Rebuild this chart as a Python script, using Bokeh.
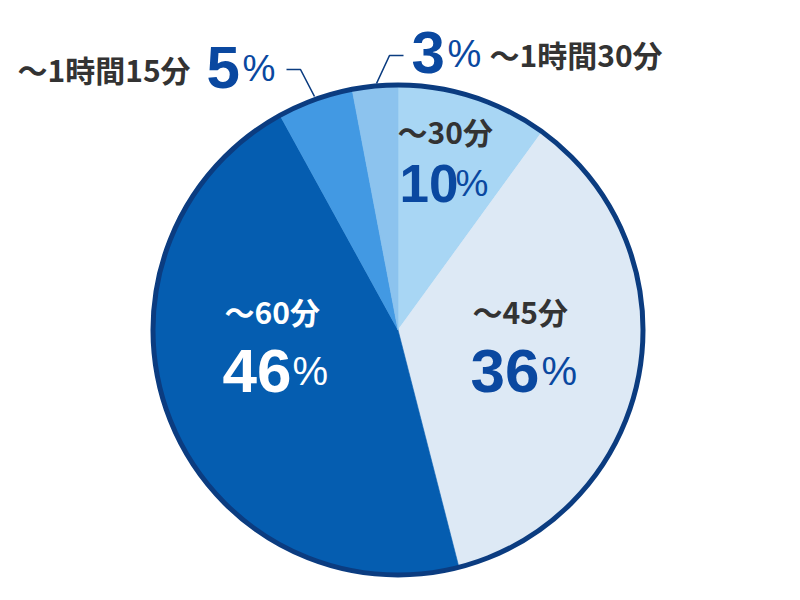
import numpy as np
from bokeh.plotting import figure
from bokeh.models import Range1d
from bokeh.core.properties import value
from bokeh.embed import file_html
from bokeh.resources import INLINE

# ---- data ----
categories = ["〜30分", "〜45分", "〜60分", "〜1時間15分", "〜1時間30分"]
percents = [10, 36, 46, 5, 3]
pct_labels = ["10", "36", "46", "5", "3"]
colors = ["#a8d6f4", "#dde9f5", "#055db0", "#4299e3", "#8cc3ee"]

# ---- layout (screen pixel coordinates in the window) ----
CX, CY, R = 397.5, 329.5, 245.0
name_pos = [(397, 130), (472, 310), (224, 310), (17, 68), (489, 53)]
name_col = ["#333333", "#333333", "#ffffff", "#333333", "#333333"]
num_pos = [(399, 183), (470, 370), (222, 370), (206, 67), (411, 52)]
num_size = ["53px", "62px", "62px", "60px", "60px"]
pc_pos = [(455, 183), (541, 370), (292, 370), (242, 68), (447, 53)]
pc_size = ["37px", "40px", "40px", "37px", "38px"]
num_col = ["#0a48a0", "#0a48a0", "#ffffff", "#0a48a0", "#0a48a0"]
leaders = [
    [(286, 69), (300, 69), (314, 96)],
    [(403, 55), (389, 55), (376, 83)],
]

W, H = 784, 584


def dy(sy):
    return H - sy


p = figure(width=W, height=H, output_backend="svg", toolbar_location=None,
           x_range=Range1d(0, W), y_range=Range1d(0, H),
           x_axis_type=None, y_axis_type=None, min_border=0)
p.outline_line_color = None
p.grid.visible = False
p.background_fill_color = "white"
p.border_fill_color = "white"

cum = np.cumsum(percents)
starts = cum - np.array(percents)
start_angle = np.pi / 2 - 2 * np.pi * starts / 100.0
end_angle = np.pi / 2 - 2 * np.pi * cum / 100.0

p.wedge(x=CX, y=dy(CY), radius=R, start_angle=start_angle, end_angle=end_angle,
        direction="clock", fill_color=colors, line_color=colors, line_width=0.6)
p.circle(x=[CX], y=[dy(CY)], radius=R, fill_color=None,
         line_color="#0b3c80", line_width=5)

for pts in leaders:
    p.line([a for a, b in pts], [dy(b) for a, b in pts], line_color="#0b3c80", line_width=1.6)

p.text(x=[a for a, b in name_pos], y=[dy(b) for a, b in name_pos], text=categories,
       text_color=name_col, text_font=value("Noto Sans CJK JP"), text_font_style="bold",
       text_font_size="30px", text_align="left", text_baseline="middle")

for i in range(len(percents)):
    p.text(x=[num_pos[i][0]], y=[dy(num_pos[i][1])], text=[pct_labels[i]],
           text_color=num_col[i], text_font=value("Liberation Sans"), text_font_style="bold",
           text_font_size=num_size[i], text_align="left", text_baseline="alphabetic")
    p.text(x=[pc_pos[i][0]], y=[dy(pc_pos[i][1])], text=["%"],
           text_color=num_col[i], text_font=value("Liberation Sans"), text_font_style="normal",
           text_font_size=pc_size[i], text_align="left", text_baseline="alphabetic")

open("out.html", "w").write(file_html(p, INLINE))
